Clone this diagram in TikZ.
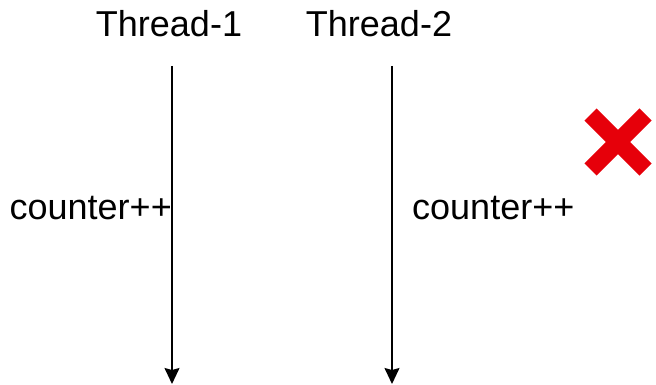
\documentclass[tikz,border=0pt]{standalone}
\usepackage{fontspec}
\setmainfont{Liberation Sans}
\usetikzlibrary{arrows.meta}
\definecolor{xred}{RGB}{230,0,10}
\tikzset{
  lbl/.style={inner sep=0pt, font=\fontsize{36}{42}\selectfont},
  life/.style={line width=1.5pt, -{Stealth[length=16pt,width=15pt,inset=2pt]}},
  cross/.style={xred, line width=17pt, line cap=butt}
}
\begin{document}
\begin{tikzpicture}[x=1pt,y=-1pt]
\useasboundingbox (0,0) rectangle (656,385);
\node[lbl, anchor=base] (t1) at (169,37) {Thread-1};
\node[lbl, anchor=base] (t2) at (379,37) {Thread-2};
\coordinate (a1) at (172,66);
\coordinate (b1) at (172,384);
\coordinate (a2) at (392,66);
\coordinate (b2) at (392,384);
\draw[life] (a1) -- (b1);
\draw[life] (a2) -- (b2);
\node[lbl, anchor=base east] (c1) at (172,219) {counter++};
\node[lbl, anchor=base west] (c2) at (412,219) {counter++};
\coordinate (xc) at (618,142);
\draw[cross] ([shift={(-27.5,-27.5)}]xc) -- ([shift={(27.5,27.5)}]xc);
\draw[cross] ([shift={(-27.5,27.5)}]xc) -- ([shift={(27.5,-27.5)}]xc);
\end{tikzpicture}
\end{document}
